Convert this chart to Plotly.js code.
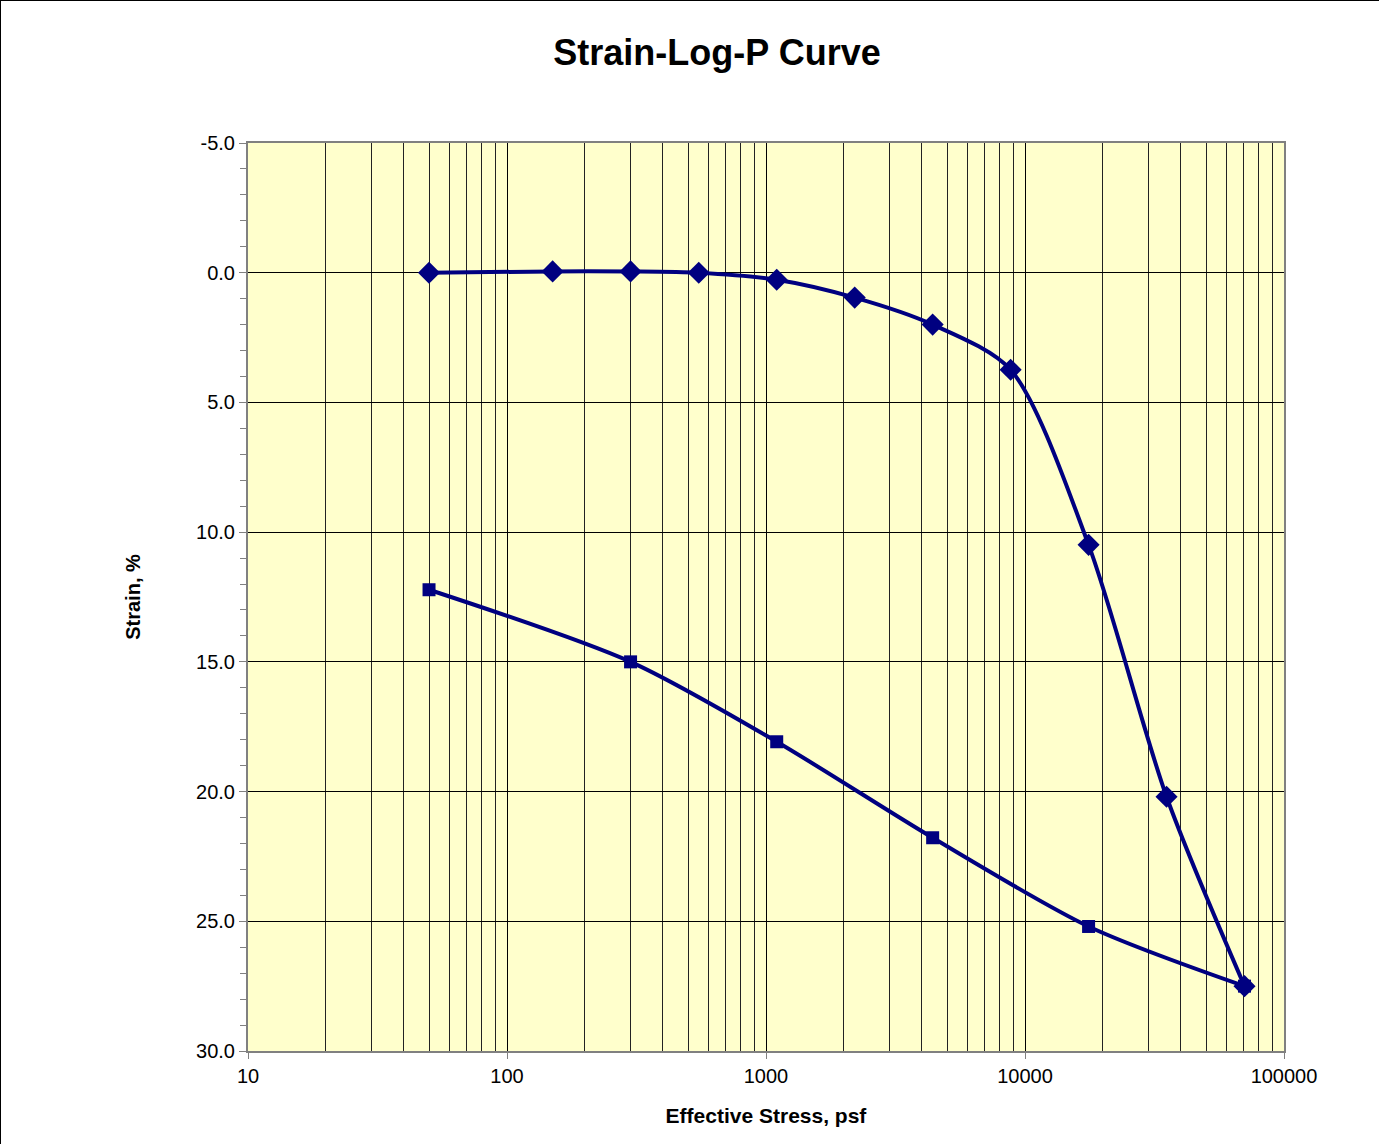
<!DOCTYPE html>
<html>
<head>
<meta charset="utf-8">
<script src="https://cdn.plot.ly/plotly-3.0.1.min.js"></script>
<style>
html,body{margin:0;padding:0;background:#fff;}
#chart{width:1379px;height:1144px;box-sizing:border-box;border:1px solid #000;}
</style>
</head>
<body>
<div id="chart"></div>
<script>
const loadingStress = [50, 150, 300, 550, 1100, 2200, 4400, 8800, 17600, 35200, 70400];
const loadingStrain = [0.0, -0.05, -0.05, 0.0, 0.27, 0.96, 2.0, 3.74, 10.49, 20.2, 27.5];
const unloadingStress = [50, 300, 1100, 4400, 17600, 70400];
const unloadingStrain = [12.22, 15.0, 18.08, 21.78, 25.2, 27.5];
const xTickVals = [10, 100, 1000, 10000, 100000];
const xTickText = ['10', '100', '1000', '10000', '100000'];
const yTickVals = [-5, 0, 5, 10, 15, 20, 25, 30];
const yTickText = ['-5.0', '0.0', '5.0', '10.0', '15.0', '20.0', '25.0', '30.0'];

const navy = '#000080';
const traces = [
  {x: loadingStress, y: loadingStrain, mode: 'lines+markers', type: 'scatter',
   line: {color: navy, width: 4, shape: 'spline', smoothing: 0.8},
   marker: {symbol: 'diamond', size: 17, color: navy}, showlegend: false, cliponaxis: false},
  {x: unloadingStress, y: unloadingStrain, mode: 'lines+markers', type: 'scatter',
   line: {color: navy, width: 4, shape: 'spline', smoothing: 0.8},
   marker: {symbol: 'square', size: 13, color: navy}, showlegend: false, cliponaxis: false}
];

const layout = {
  width: 1379, height: 1144,
  margin: {l: 247, r: 96, t: 142, b: 94},
  paper_bgcolor: '#ffffff',
  plot_bgcolor: '#FFFFCC',
  font: {family: 'Liberation Sans, Arial, sans-serif', color: '#000', size: 20},
  title: {text: '<b>Strain-Log-P Curve</b>', font: {size: 36, family: 'Liberation Sans, Arial, sans-serif'},
          x: 716/1379, xref: 'container', xanchor: 'center', y: 1 - 51/1144, yref: 'container', yanchor: 'middle'},
  xaxis: {
    type: 'log', range: [1, 5], tickvals: xTickVals, ticktext: xTickText,
    showgrid: true, gridcolor: '#000', gridwidth: 1,
    ticks: 'outside', ticklen: 6, tickcolor: '#808080', tickfont: {size: 20},
    showline: true, linecolor: '#808080', linewidth: 2, mirror: true, zeroline: false,
    minor: {dtick: 'D1', showgrid: true, gridcolor: '#222', gridwidth: 1, ticks: ''},
    title: {text: '<b>Effective Stress, psf</b>', font: {size: 21}, standoff: 22}
  },
  yaxis: {
    range: [30, -5], tickvals: yTickVals, ticktext: yTickText,
    showgrid: true, gridcolor: '#000', gridwidth: 1,
    ticks: 'outside', ticklen: 7, tickcolor: '#808080', tickfont: {size: 20},
    showline: true, linecolor: '#808080', linewidth: 2, mirror: true, zeroline: false,
    minor: {dtick: 1, ticks: 'outside', ticklen: 6, tickcolor: '#808080', showgrid: false},
    title: {text: '<b>Strain, %</b>', font: {size: 20}, standoff: 50}
  }
};

Plotly.newPlot('chart', traces, layout, {displayModeBar: false, staticPlot: true});
</script>
</body>
</html>
